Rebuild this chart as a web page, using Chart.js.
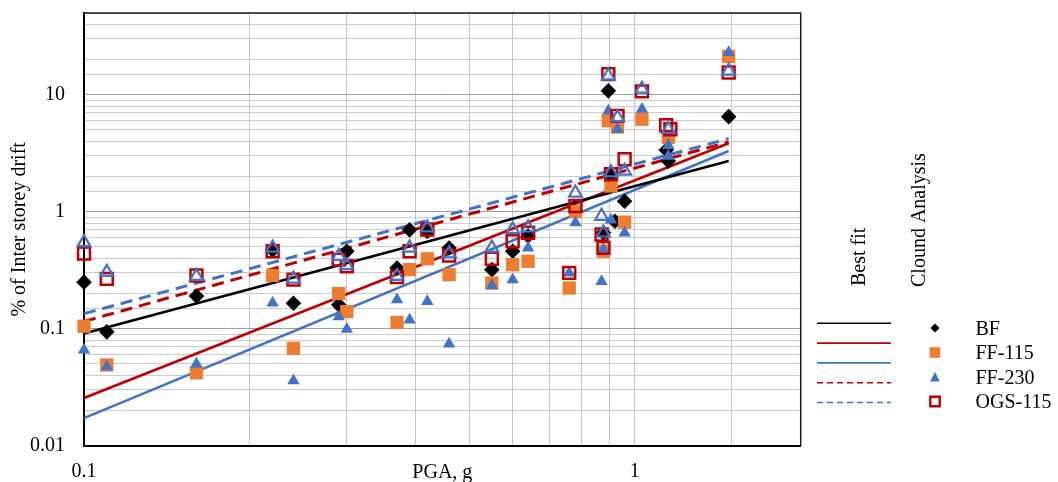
<!DOCTYPE html>
<html><head><meta charset="utf-8">
<script src="https://cdn.jsdelivr.net/npm/chart.js@4.4.1/dist/chart.umd.min.js"></script>
<style>html,body{margin:0;padding:0;background:#fff;}#wrap{width:1058px;height:482px;}</style>
</head><body><div id="wrap"><canvas id="c" width="1058" height="482"></canvas></div>
<script>
// ---------- data ----------
const seriesNames = ['BF', 'FF-115', 'FF-230', 'OGS-115', 'OGS-230'];
const legendHeaders = ['Best fit', 'Clound Analysis'];
const xTickLabels = ['0.1', '1'];
const yTickLabels = ['0.01', '0.1', '1', '10'];

const bfPGA   = [0.10, 0.11, 0.16, 0.22, 0.24, 0.29, 0.30, 0.37, 0.39, 0.42, 0.46, 0.55, 0.60, 0.64, 0.877, 0.895, 0.905, 0.92, 0.958, 1.14, 1.15, 1.48];
const bfDrift = [0.25, 0.094, 0.19, 0.47, 0.165, 0.16, 0.46, 0.33, 0.70, 0.68, 0.49, 0.32, 0.46, 0.62, 0.66, 10.8, 2.05, 0.83, 1.23, 3.37, 2.71, 6.5];

const ff115PGA   = [0.10, 0.11, 0.16, 0.22, 0.24, 0.29, 0.30, 0.37, 0.39, 0.42, 0.46, 0.55, 0.60, 0.64, 0.76, 0.78, 0.877, 0.895, 0.905, 0.93, 0.958, 1.03, 1.15, 1.48];
const ff115Drift = [0.105, 0.049, 0.042, 0.285, 0.068, 0.20, 0.14, 0.113, 0.32, 0.396, 0.29, 0.246, 0.353, 0.377, 0.223, 1.0, 0.46, 6.0, 1.66, 5.3, 0.815, 6.18, 4.31, 21.3];

const ff230PGA   = [0.10, 0.11, 0.16, 0.22, 0.24, 0.29, 0.30, 0.37, 0.39, 0.42, 0.46, 0.55, 0.60, 0.64, 0.76, 0.78, 0.87, 0.877, 0.895, 0.905, 0.93, 0.958, 1.03, 1.15, 1.15, 1.48];
const ff230Drift = [0.066, 0.0475, 0.050, 0.166, 0.036, 0.127, 0.099, 0.177, 0.119, 0.171, 0.074, 0.234, 0.263, 0.491, 0.30, 0.805, 0.254, 0.475, 7.28, 0.85, 5.07, 0.661, 7.53, 3.70, 2.99, 23.0];

const ogs115PGA   = [0.10, 0.11, 0.16, 0.22, 0.24, 0.29, 0.30, 0.37, 0.39, 0.42, 0.46, 0.55, 0.60, 0.64, 0.76, 0.78, 0.87, 0.877, 0.895, 0.905, 0.93, 0.958, 1.03, 1.14, 1.16, 1.48];
const ogs115Drift = [0.44, 0.267, 0.285, 0.46, 0.263, 0.39, 0.342, 0.277, 0.46, 0.705, 0.422, 0.396, 0.56, 0.661, 0.30, 1.12, 0.639, 0.491, 15.0, 2.09, 6.6, 2.81, 10.7, 5.49, 5.07, 15.5];

const ogs230PGA   = [0.10, 0.11, 0.16, 0.22, 0.24, 0.29, 0.30, 0.37, 0.39, 0.42, 0.46, 0.55, 0.60, 0.64, 0.78, 0.87, 0.877, 0.895, 0.905, 0.93, 0.958, 1.03, 1.15, 1.48];
const ogs230Drift = [0.546, 0.304, 0.281, 0.49, 0.267, 0.416, 0.347, 0.281, 0.491, 0.73, 0.439, 0.491, 0.705, 0.729, 1.45, 0.917, 0.661, 14.5, 2.16, 6.39, 2.23, 11.2, 5.07, 16.0];

// best-fit lines (end points)
const fitPGA    = [0.1, 1.48];
const bfFit     = [0.091, 2.71];
const ff115Fit  = [0.0256, 3.85];
const ff230Fit  = [0.0172, 3.31];
const ogs115Fit = [0.1155, 3.95];
const ogs230Fit = [0.1345, 4.22];

// ---------- styles ----------
const BLACK = '#000000', RED = '#c00000', BLUE = '#4472c4', ORANGE = '#ed7d31';
const FONT = '"Liberation Serif", "Times New Roman", serif';
const zip = (xs, ys) => xs.map((x, i) => ({x: x, y: ys[i]}));
const isDecade = v => { const l = Math.log10(v); return Math.abs(l - Math.round(l)) < 1e-6; };
const labelFor = (v, labels) => { const f = labels.find(s => Math.abs(parseFloat(s) - v) <= 1e-6 * v); return f === undefined ? '' : f; };

function pointSet(label, xs, ys, style, radius, fill, stroke, bw, order) {
  return {label, data: zip(xs, ys), pointStyle: style, pointRadius: radius, pointHoverRadius: radius,
    backgroundColor: fill, borderColor: stroke, pointBorderWidth: bw, borderWidth: bw,
    showLine: false, order, clip: false};
}
function fitSet(label, ys, color, dash, width, order) {
  return {label, data: zip(fitPGA, ys), showLine: true, pointRadius: 0, pointHoverRadius: 0,
    borderColor: color, backgroundColor: color, borderWidth: width, borderDash: dash, order, clip: false, fill: false};
}

const datasets = [
  pointSet(seriesNames[0], bfPGA, bfDrift, 'rectRot', 7.8, BLACK, BLACK, 0, 4),
  pointSet(seriesNames[1], ff115PGA, ff115Drift, 'rect', 9.4, ORANGE, ORANGE, 0, 3),
  pointSet(seriesNames[2], ff230PGA, ff230Drift, 'triangle', 7.2, BLUE, BLUE, 0, 2),
  pointSet(seriesNames[3], ogs115PGA, ogs115Drift, 'rect', 8.4, 'rgba(0,0,0,0)', RED, 2.5, 1),
  pointSet(seriesNames[4], ogs230PGA, ogs230Drift, 'triangle', 7.4, 'rgba(0,0,0,0)', BLUE, 2.2, 0),
  fitSet(seriesNames[0] + ' fit', bfFit, BLACK, [], 2.6, 5),
  fitSet(seriesNames[1] + ' fit', ff115Fit, RED, [], 2.6, 6),
  fitSet(seriesNames[2] + ' fit', ff230Fit, BLUE, [], 2.6, 7),
  fitSet(seriesNames[3] + ' fit', ogs115Fit, RED, [12, 7], 3, 8),
  fitSet(seriesNames[4] + ' fit', ogs230Fit, BLUE, [12, 7], 3, 9)
];

// ---------- plugins ----------
const frame = {
  id: 'frame',
  beforeDatasetsDraw(chart) {
    const {ctx, chartArea: a} = chart;
    ctx.save();
    ctx.strokeStyle = '#1a1a1a';
    ctx.lineWidth = 1.5;
    ctx.beginPath();
    ctx.moveTo(a.left, a.top); ctx.lineTo(a.right, a.top); ctx.lineTo(a.right, a.bottom);
    ctx.stroke();
    ctx.restore();
  }
};

const L = {lineX0: 817, lineX1: 891, lineY0: 323.3, lineDY: 19.8, markX: 935, textX: 975.5, rowY0: 328, rowDY: 24.5,
  head1: [865, 286], head2: [925, 287]};

function legendMarker(ctx, ds, x, y) {
  ctx.save();
  ctx.fillStyle = ds.backgroundColor;
  ctx.strokeStyle = ds.borderColor;
  ctx.beginPath();
  if (ds.pointStyle === 'rectRot') {
    const h = 4.6;
    ctx.moveTo(x, y - h); ctx.lineTo(x + h, y); ctx.lineTo(x, y + h); ctx.lineTo(x - h, y); ctx.closePath();
    ctx.fill();
  } else if (ds.pointStyle === 'rect' && ds.borderWidth === 0) {
    ctx.rect(x - 5.3, y - 5.3, 10.6, 10.6); ctx.fill();
  } else if (ds.pointStyle === 'rect') {
    ctx.lineWidth = 2.4; ctx.rect(x - 4.7, y - 4.7, 9.4, 9.4); ctx.stroke();
  } else {
    ctx.moveTo(x, y - 5.2); ctx.lineTo(x + 4.8, y + 4.6); ctx.lineTo(x - 4.8, y + 4.6); ctx.closePath();
    if (ds.borderWidth === 0) ctx.fill(); else { ctx.lineWidth = 2; ctx.stroke(); }
  }
  ctx.restore();
}

const customLegend = {
  id: 'customLegend',
  afterDraw(chart) {
    const ctx = chart.ctx;
    const ds = chart.data.datasets;
    ctx.save();
    ctx.fillStyle = '#000';
    ctx.font = '20px ' + FONT;
    ctx.textBaseline = 'alphabetic';
    ctx.textAlign = 'left';
    [L.head1, L.head2].forEach((p, i) => {
      ctx.save(); ctx.translate(p[0], p[1]); ctx.rotate(-Math.PI / 2);
      ctx.fillText(legendHeaders[i], 0, 0); ctx.restore();
    });
    // fit-line samples
    ds.slice(5).forEach((d, i) => {
      const y = L.lineY0 + i * L.lineDY;
      ctx.save();
      ctx.strokeStyle = d.borderColor; ctx.lineWidth = 1.6;
      ctx.setLineDash(d.borderDash && d.borderDash.length ? [6, 4] : []);
      ctx.beginPath(); ctx.moveTo(L.lineX0, y); ctx.lineTo(L.lineX1, y); ctx.stroke();
      ctx.restore();
    });
    // marker entries (first four series)
    ds.slice(0, 4).forEach((d, i) => {
      const y = L.rowY0 + i * L.rowDY;
      legendMarker(ctx, d, L.markX, y);
      ctx.fillStyle = '#000';
      ctx.fillText(d.label, L.textX, y + 6.8);
    });
    ctx.restore();
  }
};

// ---------- chart ----------
Chart.defaults.font.family = FONT;
Chart.defaults.font.size = 20;
Chart.defaults.color = '#000';

new Chart(document.getElementById('c'), {
  type: 'scatter',
  data: {datasets},
  options: {
    responsive: false,
    animation: false,
    events: [],
    layout: {padding: {left: 0, top: 13, right: 257.3, bottom: 0}},
    plugins: {legend: {display: false}, tooltip: {enabled: false}},
    scales: {
      x: {
        type: 'logarithmic', min: 0.1, max: 2, position: 'bottom',
        afterFit: s => { s.height = 36.3; s.paddingLeft = 0; s.paddingRight = 0; },
        ticks: {autoSkip: false, maxRotation: 0, minRotation: 0, padding: 14,
          callback: v => labelFor(v, xTickLabels)},
        grid: {drawTicks: false, color: '#c4c4c4', lineWidth: 1},
        border: {display: true, color: '#000', width: 2},
        title: {display: true, text: 'PGA, g', padding: {top: 0, bottom: -3}}
      },
      y: {
        type: 'logarithmic', min: 0.01, max: 50, position: 'left',
        afterFit: s => { s.width = 84; s.paddingTop = 0; s.paddingBottom = 0; },
        ticks: {autoSkip: false, padding: 19, callback: v => labelFor(v, yTickLabels)},
        grid: {drawTicks: false, lineWidth: 1,
          color: c => (c.tick && isDecade(c.tick.value)) ? '#9e9e9e' : '#cccccc'},
        border: {display: true, color: '#000', width: 2},
        title: {display: true, text: '% of Inter storey drift', padding: {top: 8, bottom: 0}}
      }
    }
  },
  plugins: [frame, customLegend]
});
</script></body></html>
